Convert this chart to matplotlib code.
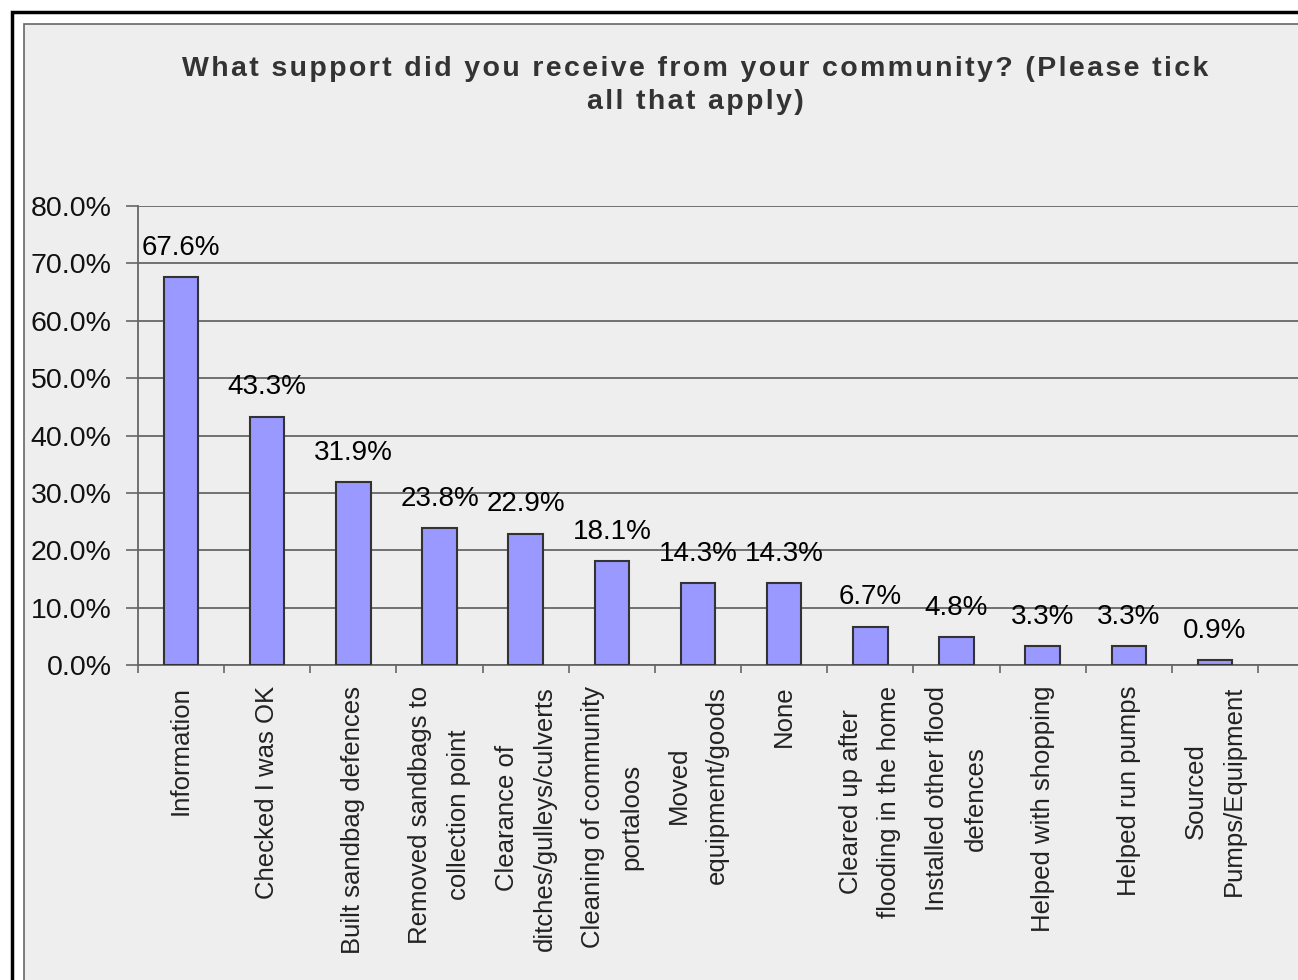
import numpy as np
import matplotlib
matplotlib.use("Agg")
import matplotlib.pyplot as plt
from matplotlib.patches import Rectangle

plt.rcParams['font.family'] = ['Liberation Sans', 'DejaVu Sans']

categories = [
    "Information",
    "Checked I was OK",
    "Built sandbag defences",
    "Removed sandbags to\ncollection point",
    "Clearance of\nditches/gulleys/culverts",
    "Cleaning of community\nportaloos",
    "Moved\nequipment/goods",
    "None",
    "Cleared up after\nflooding in the home",
    "Installed other flood\ndefences",
    "Helped with shopping",
    "Helped run pumps",
    "Sourced\nPumps/Equipment",
]
values = [67.6, 43.3, 31.9, 23.8, 22.9, 18.1, 14.3, 14.3, 6.7, 4.8, 3.3, 3.3, 0.9]
yticks = [0, 10, 20, 30, 40, 50, 60, 70, 80]
title = "What support did you receive from your community? (Please tick\nall that apply)"

W, H = 1298, 980
fig = plt.figure(figsize=(W / 100, H / 100), dpi=100)
fig.patch.set_facecolor("white")

# outer frame and chart panel
fig.patches.append(Rectangle((12 / W, -0.1), 1.2, (H - 12) / H + 0.1, transform=fig.transFigure,
                             fill=False, edgecolor="black", linewidth=2.5, zorder=-5))
fig.patches.append(Rectangle((24 / W, -0.1), 1.2, (H - 24) / H + 0.1, transform=fig.transFigure,
                             facecolor="#eeeeee", edgecolor="#666666", linewidth=1.2, zorder=-5))

left, right, top, bottom = 138, 1298, 206, 665
ax = fig.add_axes([left / W, (H - bottom) / H, (right - left) / W, (bottom - top) / H])
ax.set_facecolor("none")
ax.set_zorder(2)

x = np.arange(len(values))
ax.bar(x, values, width=0.4, color="#9999ff", edgecolor="#333333", linewidth=1.5, zorder=3)

step = (1258 - left) / len(values)
ax.set_xlim(-0.5, -0.5 + (right - left) / step)
ax.set_ylim(0, 80)

ax.set_yticks(yticks)
ax.set_yticklabels([f"{v:.1f}%" for v in yticks], fontsize=20.5, color="#111111")
ax.yaxis.grid(True, color="#666666", linewidth=1.3, zorder=1)
ax.set_axisbelow(True)

ax.set_xticks(x)
ax.set_xticklabels(categories, rotation=90, fontsize=18.5, color="#222222",
                   ha="center", va="top", multialignment="center", linespacing=1.75)
ax.set_xticks(np.arange(len(values) + 1) - 0.5, minor=True)
ax.tick_params(axis="x", which="major", length=0, pad=15)
ax.tick_params(axis="x", which="minor", length=6, color="#666666", width=1.2)
ax.tick_params(axis="y", length=9, color="#666666", width=1.2, pad=10)

for s in ["top", "right"]:
    ax.spines[s].set_visible(False)
for s in ["left", "bottom"]:
    ax.spines[s].set_color("#666666")
    ax.spines[s].set_linewidth(1.3)

for xi, v in zip(x, values):
    ax.annotate(f"{v:.1f}%", (xi, v), xytext=(0, 21), textcoords="offset points",
                ha="center", va="center", fontsize=20, color="black")

# title with widened letter spacing
spaced = "\n".join("\u200a".join(line) for line in title.split("\n"))
fig.text(695 / W, 1 - 56 / H, spaced, ha="center", va="top", fontsize=20.5,
         fontweight="bold", color="#333333", linespacing=1.36)

fig.savefig("out.png", dpi=100)
